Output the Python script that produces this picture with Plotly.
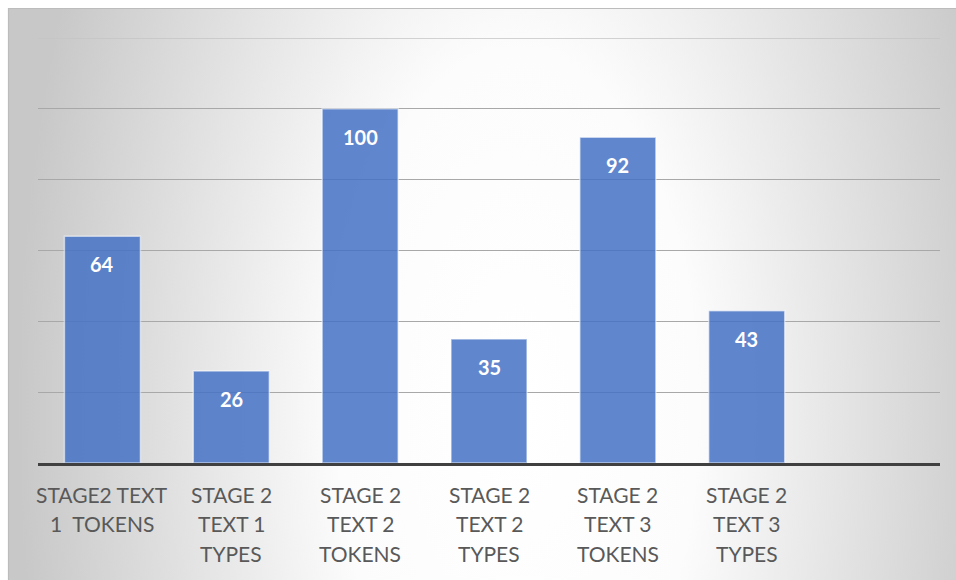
import base64
import plotly.graph_objects as go

# Category tick labels (7 slots on the axis, the last one left empty)
categories = ["s2t1_tokens", "s2t1_types", "s2t2_tokens", "s2t2_types", "s2t3_tokens", "s2t3_types"]
tick_labels = [
    ["STAGE2 TEXT", "1\u00a0 TOKENS"],
    ["STAGE 2", "TEXT 1", "TYPES"],
    ["STAGE 2", "TEXT 2", "TOKENS"],
    ["STAGE 2", "TEXT 2", "TYPES"],
    ["STAGE 2", "TEXT 3", "TOKENS"],
    ["STAGE 2", "TEXT 3", "TYPES"],
]
values = [64, 26, 100, 35, 92, 43]
grid_values = [20, 40, 60, 80, 100, 120]

W, H = 956, 580
ML, MR, MT, MB = 38, 16, 38, 117
plot_w = W - ML - MR
plot_h = H - MT - MB

# Chart-area frame in pixels
fx0, fy0 = 8, 8
frame_w, frame_h = W - fx0, H - fy0

# Soft radial background (white centre fading to grey at the sides)
svg = f"""<svg xmlns='http://www.w3.org/2000/svg' width='{frame_w}' height='{frame_h}'>
<defs><radialGradient id='g' gradientUnits='userSpaceOnUse' cx='510' cy='400' r='500'
 gradientTransform='translate(510 400) scale(1 2.0) translate(-510 -400)'>
<stop offset='0' stop-color='#ffffff'/>
<stop offset='0.36' stop-color='#fcfcfc'/>
<stop offset='1' stop-color='#c8c8c8'/>
</radialGradient></defs>
<rect x='0' y='0' width='{frame_w}' height='{frame_h}' fill='url(#g)'/>
</svg>"""
bg_uri = "data:image/svg+xml;base64," + base64.b64encode(svg.encode()).decode()


def px_to_paper_x(px):
    return (px - ML) / plot_w


def px_to_paper_y(py):
    return (H - MB - py) / plot_h


fig = go.Figure()
fig.add_trace(go.Bar(
    x=categories,
    y=values,
    marker=dict(color="rgba(68,114,196,0.85)",
                line=dict(color="rgba(255,255,255,0.55)", width=1.5)),
    hoverinfo="skip",
))

# Value labels inside the top of each bar
for c, v in zip(categories, values):
    fig.add_annotation(x=c, y=v, text=str(v), showarrow=False,
                       yanchor="middle", yshift=-28,
                       font=dict(family="Lato", size=20, color="white", weight="bold"))

# Category labels, one line at a time under the axis
LINE_TOP, LINE_STEP = 494, 29.5
for c, lines in zip(categories, tick_labels):
    for i, line in enumerate(lines):
        fig.add_annotation(x=c, xref="x", yref="paper",
                           y=px_to_paper_y(LINE_TOP + LINE_STEP * i),
                           text=line, showarrow=False, yanchor="middle",
                           font=dict(family="Lato", size=21, color="#595959"))

# Top gridline sits on the upper edge of the plot area
fig.add_shape(type="line", xref="paper", yref="y", x0=0, x1=1,
              y0=grid_values[-1], y1=grid_values[-1],
              line=dict(color="#c4c4c4", width=1.4), layer="below")

fig.add_layout_image(dict(
    source=bg_uri, xref="paper", yref="paper",
    x=px_to_paper_x(fx0), y=px_to_paper_y(fy0),
    sizex=frame_w / plot_w, sizey=frame_h / plot_h,
    xanchor="left", yanchor="top", sizing="stretch", layer="below",
))

# Thin frame edge on the left and top
fig.add_shape(type="rect", xref="paper", yref="paper",
              x0=px_to_paper_x(fx0 + 0.5), y0=px_to_paper_y(H + 10),
              x1=px_to_paper_x(W + 10), y1=px_to_paper_y(fy0 + 0.5),
              line=dict(color="#bcbcbc", width=1.2), layer="below")

fig.update_layout(
    width=W, height=H,
    margin=dict(l=ML, r=MR, t=MT, b=MB),
    paper_bgcolor="white",
    plot_bgcolor="rgba(0,0,0,0)",
    bargap=0.41,
    showlegend=False,
    font=dict(family="Lato", color="#595959"),
)
fig.update_xaxes(
    type="category",
    categoryorder="array", categoryarray=categories,
    range=[-0.5, 6.5],
    showticklabels=False,
    showgrid=False, zeroline=False,
    showline=True, linecolor="#404040", linewidth=3,
    ticks="",
)
fig.update_yaxes(
    range=[0, 120],
    tickvals=grid_values,
    showticklabels=False,
    showgrid=True, gridcolor="#a8a8a8", gridwidth=1.4,
    zeroline=False, showline=False, ticks="",
)

fig.write_html("out.html")
